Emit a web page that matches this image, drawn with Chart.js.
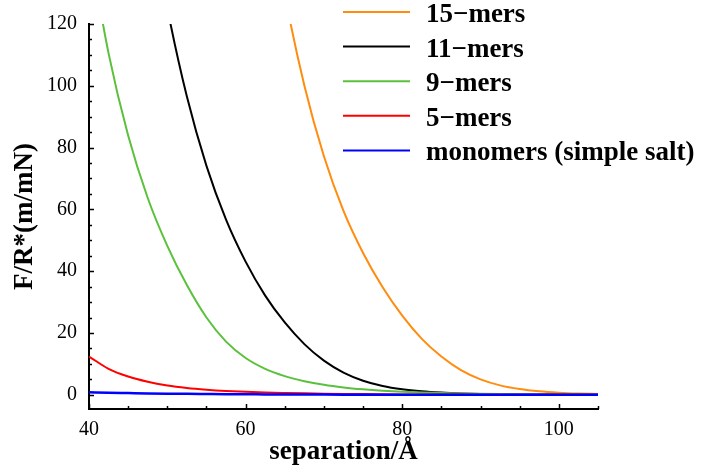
<!DOCTYPE html>
<html>
<head>
<meta charset="utf-8">
<script src="https://cdn.jsdelivr.net/npm/chart.js@4"></script>
<style>
  html, body { margin:0; padding:0; background:#fff; }
  #wrap { width:703px; height:473px; }
</style>
</head>
<body>
<div id="wrap"><canvas id="forceChart" width="703" height="473"></canvas></div>
<script>
// separação entre superfícies (Å)
const separation = [40, 42.5, 45, 47.5, 50, 52.5, 55, 57.5, 60, 62.5, 65, 67.5, 70,
  72.5, 75, 77.5, 80, 82.5, 85, 87.5, 90, 92.5, 95, 97.5, 100, 102.5, 105];

// F/R* (m/mN) para cada comprimento de cadeia
const mers15 = [null, null, null, null, null, null, null, null, null, 168.4, 129.8, 100.1, 77.2,
  59.5, 45.9, 34.8, 25.6, 18.1, 12.4, 8.0, 5.0, 3.05, 1.85, 1.12, 0.68, 0.41, 0.25];
const mers11 = [null, null, null, 160.8, 125.2, 96.5, 74.1, 56.7, 43.1, 32.1, 23.4, 16.4, 11.05,
  7.18, 4.55, 2.84, 1.78, 1.12, 0.71, 0.45, 0.29, 0.185, 0.12, 0.075, 0.05, 0.03, 0.02];
const mers9 = [145.5, 110.5, 83.9, 63.7, 48.2, 35.5, 25.0, 17.2, 11.9, 8.4, 6.05, 4.4, 3.22,
  2.38, 1.77, 1.31, 0.97, 0.72, 0.54, 0.40, 0.30, 0.22, 0.16, 0.12, 0.09, 0.07, 0.05];
const mers5 = [12.4, 8.4, 5.9, 4.2, 3.0, 2.2, 1.65, 1.25, 0.97, 0.76, 0.6, 0.46, 0.36,
  0.28, 0.22, 0.17, 0.13, 0.1, 0.08, 0.06, 0.05, 0.04, 0.03, 0.02, 0.02, 0.01, 0.01];
const monomers = [0.8, 0.65, 0.55, 0.45, 0.37, 0.3, 0.25, 0.2, 0.16, 0.13, 0.1, 0.08, 0.06,
  0.05, 0.04, 0.03, 0.025, 0.02, 0.015, 0.01, 0.01, 0.01, 0.005, 0.005, 0, 0, 0];

const seriesNames = ['15\u2212mers', '11\u2212mers', '9\u2212mers', '5\u2212mers', 'monomers (simple salt)'];
const xTicks = [40, 60, 80, 100];
const yTicks = [0, 20, 40, 60, 80, 100, 120];

const SERIF = '"Liberation Serif", "Times New Roman", serif';
const pts = vals => separation.map((x, i) => ({ x, y: vals[i] }));

const series = [
  { data: mers15,   color: '#ff8c0f', order: 4 },
  { data: mers11,   color: '#000000', order: 3 },
  { data: mers9,    color: '#5bc13c', order: 2 },
  { data: mers5,    color: '#ff0000', order: 1 },
  { data: monomers, color: '#0000ff', order: 0, width: 2.5 },
];

// marcas de escala para dentro (principais + secundárias de 5 em 5)
const innerTicks = {
  id: 'innerTicks',
  afterDatasetsDraw(chart) {
    const { ctx, chartArea: a, scales: { x, y } } = chart;
    ctx.save();
    ctx.strokeStyle = '#000';
    ctx.lineWidth = 1.5;
    ctx.beginPath();
    for (let v = 40; v <= 105; v += 5) {
      const px = Math.round(x.getPixelForValue(v)) + 0.5;
      const len = xTicks.includes(v) ? 5 : 3;
      ctx.moveTo(px, a.bottom); ctx.lineTo(px, a.bottom - len);
    }
    for (let v = 0; v <= 120; v += 5) {
      const py = Math.round(y.getPixelForValue(v)) + 0.5;
      const len = yTicks.includes(v) ? 5 : 3;
      ctx.moveTo(a.left, py); ctx.lineTo(a.left + len, py);
    }
    ctx.stroke();
    ctx.restore();
  }
};

// legenda no canto superior direito
const cornerLegend = {
  id: 'cornerLegend',
  afterDraw(chart) {
    const { ctx } = chart;
    ctx.save();
    ctx.font = 'bold 27px ' + SERIF;
    ctx.textBaseline = 'middle';
    ctx.fillStyle = '#000';
    chart.data.datasets.forEach((ds, i) => {
      const yy = 12 + i * 34.6;
      ctx.strokeStyle = ds.borderColor;
      ctx.lineWidth = 2;
      ctx.beginPath();
      ctx.moveTo(343, yy); ctx.lineTo(410, yy);
      ctx.stroke();
      ctx.fillText(ds.label, 426, yy + 3);
    });
    ctx.restore();
  }
};

new Chart(document.getElementById('forceChart'), {
  type: 'line',
  data: {
    datasets: series.map((s, i) => ({
      label: seriesNames[i],
      data: pts(s.data),
      borderColor: s.color,
      borderWidth: s.width || 2,
      pointRadius: 0,
      fill: false,
      order: s.order,
      cubicInterpolationMode: 'monotone',
    }))
  },
  options: {
    responsive: false,
    animation: false,
    layout: { padding: { top: 23, right: 105, left: 0, bottom: 0 } },
    plugins: { legend: { display: false }, tooltip: { enabled: false } },
    scales: {
      x: {
        type: 'linear', min: 40, max: 105,
        afterBuildTicks: s => { s.ticks = xTicks.map(value => ({ value })); },
        afterFit: s => { s.height = 64; },
        grid: { display: false, drawTicks: false },
        border: { display: true, color: '#000', width: 2 },
        ticks: { color: '#000', padding: 9, maxRotation: 0, font: { family: SERIF, size: 20 } },
        title: { display: true, text: 'separation/\u00c5', color: '#000', padding: { top: 0, bottom: 5 },
                 font: { family: SERIF, size: 27, weight: 'bold' } }
      },
      y: {
        type: 'linear', min: -4.6, max: 120,
        afterBuildTicks: s => { s.ticks = yTicks.map(value => ({ value })); },
        afterFit: s => { s.width = 89; },
        grid: { display: false, drawTicks: false },
        border: { display: true, color: '#000', width: 2 },
        ticks: { color: '#000', padding: 12, font: { family: SERIF, size: 20 } },
        title: { display: true, text: 'F/R*(m/mN)', color: '#000', padding: { top: 9, bottom: 0 },
                 font: { family: SERIF, size: 27, weight: 'bold' } }
      }
    }
  },
  plugins: [innerTicks, cornerLegend]
});
</script>
</body>
</html>
